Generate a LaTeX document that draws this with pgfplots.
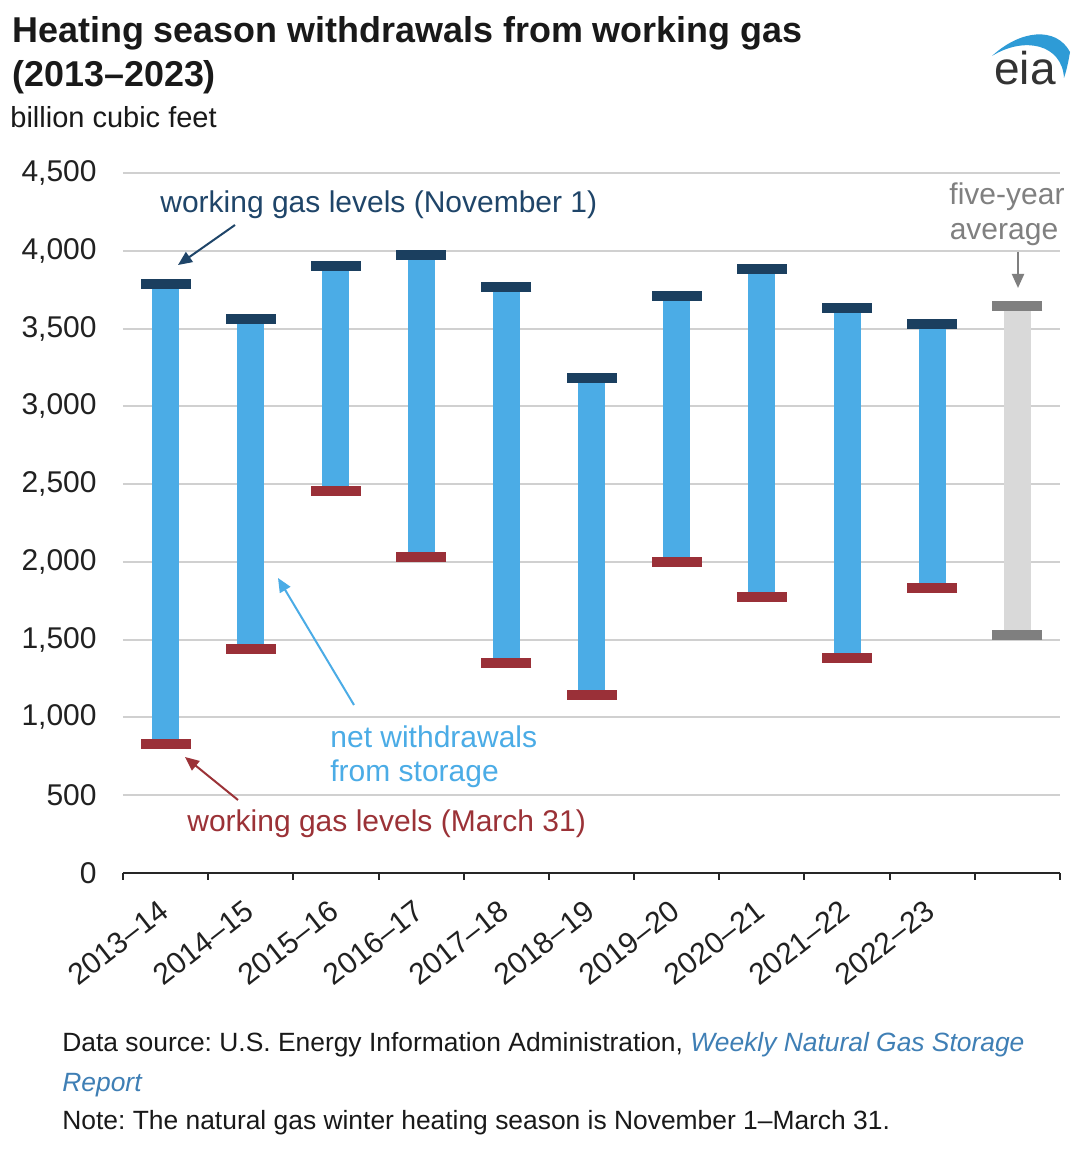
\documentclass[border=0pt]{standalone}
\usepackage{pgfplots}
\pgfplotsset{compat=1.18}
\usepackage{pgfplotstable}
\usepackage{fontspec}
\setmainfont{Liberation Sans}
\usetikzlibrary{arrows.meta}
\frenchspacing

\definecolor{barblue}{HTML}{4BACE6}
\definecolor{capnavy}{HTML}{1B3F5F}
\definecolor{capred}{HTML}{9A3038}
\definecolor{avgbar}{HTML}{D9D9D9}
\definecolor{avgcap}{HTML}{7F7F7F}
\definecolor{gridgrey}{HTML}{D0D0D0}
\definecolor{navytext}{HTML}{1F4569}
\definecolor{redtext}{HTML}{9B3237}
\definecolor{greytext}{HTML}{808080}
\definecolor{linkblue}{HTML}{3F7FB5}
\definecolor{logotext}{HTML}{333333}
\definecolor{logoblue}{HTML}{2E9BD6}

\pgfplotstableread{
x top bot
0 3786 829
1 3561 1440
2 3903 2456
3 3971 2031
4 3769 1349
5 3182 1147
6 3712 2001
7 3886 1772
8 3629 1379
9 3528 1830
}\yeardata

\pgfplotstableread{
x top bot
10 3646 1532
}\avgdata

\newcommand{\chartfont}{\fontsize{15}{18}\selectfont}

\begin{document}
\begin{tikzpicture}[x=1pt,y=1pt]
\useasboundingbox (0,0) rectangle (540,578);
\fill[white] (0,0) rectangle (540,578);

\begin{axis}[
  at={(61.5pt,141.5pt)}, anchor=south west,
  scale only axis, width=468.5pt, height=350pt,
  xmin=-0.5, xmax=10.5, ymin=0, ymax=4500,
  axis lines*=left,
  x axis line style={black!85, line width=1pt},
  y axis line style={draw=none},
  tick align=outside,
  xtick={0,1,2,3,4,5,6,7,8,9},
  xticklabels={2013–14,2014–15,2015–16,2016–17,2017–18,2018–19,2019–20,2020–21,2021–22,2022–23},
  minor xtick={-0.5,0.5,1.5,2.5,3.5,4.5,5.5,6.5,7.5,8.5,9.5,10.5},
  major tick length=0pt,
  minor tick length=3.5pt,
  minor tick style={black!85, line width=1pt},
  ytick={0,500,1000,1500,2000,2500,3000,3500,4000,4500},
  yticklabels={0,500,{1,000},{1,500},{2,000},{2,500},{3,000},{3,500},{4,000},{4,500}},
  ymajorgrids,
  grid style={gridgrey, line width=1pt},
  yticklabel style={font=\chartfont, anchor=east, inner sep=0pt, xshift=-13pt, text=black!87},
  xticklabel style={font=\chartfont, xshift=-4pt, yshift=-12.5pt, rotate=38, anchor=north east, inner sep=0pt, text=black!87},
  clip=false,
]
% net withdrawals (floating bars)
\addplot[draw=none, forget plot,
  error bars/.cd, y dir=plus, y explicit, error mark=none,
  error bar style={draw=barblue, line width=13.5pt, line cap=butt}]
  table[x=x, y=bot, y error expr=\thisrow{top}-\thisrow{bot}] {\yeardata};
\addplot[draw=none, forget plot,
  error bars/.cd, y dir=plus, y explicit, error mark=none,
  error bar style={draw=avgbar, line width=13.5pt, line cap=butt}]
  table[x=x, y=bot, y error expr=\thisrow{top}-\thisrow{bot}] {\avgdata};
% November 1 levels
\addplot[only marks, mark=-, mark size=12.5pt,
  mark options={draw=capnavy, line width=5pt, line cap=butt}]
  table[x=x, y=top] {\yeardata};
% March 31 levels
\addplot[only marks, mark=-, mark size=12.5pt,
  mark options={draw=capred, line width=5pt, line cap=butt}]
  table[x=x, y=bot] {\yeardata};
% five-year average
\addplot[only marks, mark=-, mark size=12.5pt,
  mark options={draw=avgcap, line width=5pt, line cap=butt}]
  table[x=x, y=top] {\avgdata};
\addplot[only marks, mark=-, mark size=12.5pt,
  mark options={draw=avgcap, line width=5pt, line cap=butt}]
  table[x=x, y=bot] {\avgdata};
\end{axis}

% title
\node[anchor=base west, inner sep=0pt, font=\fontsize{17.95}{22}\selectfont\bfseries, text=black!90] at (6,556.5) {Heating season withdrawals from working gas};
\node[anchor=base west, inner sep=0pt, font=\fontsize{17.95}{22}\selectfont\bfseries, text=black!90] at (6,534.5) {(2013–2023)};
\node[anchor=base west, inner sep=0pt, font=\fontsize{14.5}{17}\selectfont, text=black!90] at (5,514) {billion cubic feet};

% eia logo
\node[anchor=base west, inner sep=0pt, font=\fontsize{23}{26}\selectfont, text=logotext] at (497,535.5) {eia};
\fill[logoblue] (496,550) .. controls (510,563) and (528,565) .. (535,552)
  .. controls (534,546) and (533,542) .. (532,539)
  .. controls (531,556) and (512,560) .. (496,550) -- cycle;

% annotations
\node[anchor=base west, inner sep=0pt, font=\chartfont, text=navytext] at (80,471.5) {working gas levels (November 1)};
\draw[navytext, line width=1pt, -{Triangle[length=7pt,width=6pt]}] (117.5,465.5) -- (89,445.5);

\node[align=center, inner sep=0pt, font=\chartfont, text=greytext, anchor=base] at (503.5,475.5) {five-year};
\node[align=center, inner sep=0pt, font=\chartfont, text=greytext, anchor=base] at (502,458) {average};
\draw[avgcap, line width=1pt, -{Triangle[length=7pt,width=6pt]}] (509,452) -- (509,434);

\node[anchor=base west, inner sep=0pt, font=\chartfont, text=barblue] at (165,204) {net withdrawals};
\node[anchor=base west, inner sep=0pt, font=\chartfont, text=barblue] at (165,187) {from storage};
\draw[barblue, line width=1pt, -{Triangle[length=7pt,width=6pt]}] (177,225.5) -- (139,289);

\node[anchor=base west, inner sep=0pt, font=\chartfont, text=redtext] at (93.5,162) {working gas levels (March 31)};
\draw[redtext, line width=1pt, -{Triangle[length=7pt,width=6pt]}] (119,178) -- (92.5,199.5);

% footnotes
\node[anchor=base west, inner sep=0pt, font=\fontsize{13.2}{16}\selectfont, text=black!90] at (31,52) {Data source: U.S. Energy Information Administration, \textcolor{linkblue}{\itshape Weekly Natural Gas Storage}};
\node[anchor=base west, inner sep=0pt, font=\fontsize{13.2}{16}\selectfont\itshape, text=linkblue] at (31,32) {Report};
\node[anchor=base west, inner sep=0pt, font=\fontsize{13.2}{16}\selectfont, text=black!90] at (31,13) {Note: The natural gas winter heating season is November 1–March 31.};
\end{tikzpicture}
\end{document}
